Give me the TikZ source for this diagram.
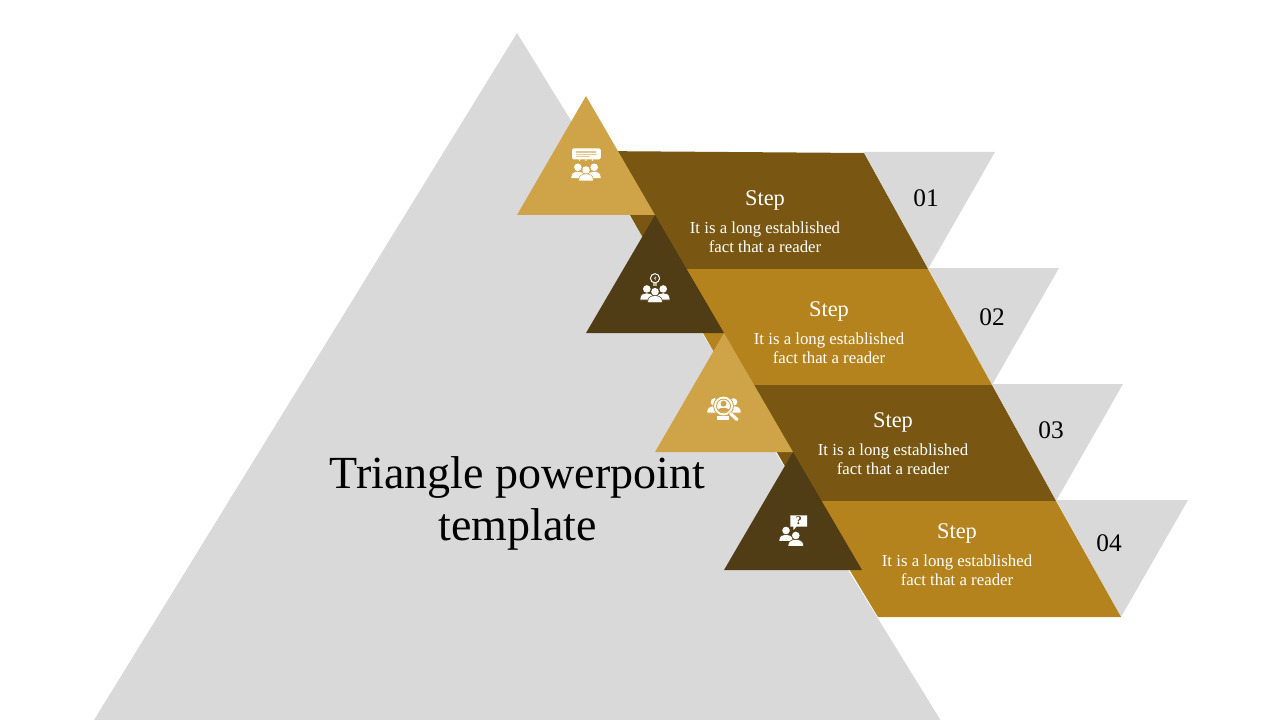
\documentclass[tikz,border=0pt]{standalone}
\usepackage{fontspec}
\setmainfont{Liberation Serif}
\definecolor{greyshape}{HTML}{D9D9D9}
\definecolor{lightgold}{HTML}{CFA348}
\definecolor{darkgold}{HTML}{513D15}
\definecolor{brownband}{HTML}{795713}
\definecolor{goldband}{HTML}{B4831E}
\tikzset{
  greytri/.style={fill=greyshape},
  bandbrown/.style={fill=brownband},
  bandgold/.style={fill=goldband},
  trilight/.style={fill=lightgold},
  tridark/.style={fill=darkgold},
  titletext/.style={align=center,font=\fontsize{34.5}{39}\selectfont,text=black,inner sep=0pt},
  headtext/.style={text=white,font=\fontsize{16.8}{18}\selectfont,inner sep=0pt},
  bodytext/.style={text=white,align=center,font=\fontsize{12.6}{14.25}\selectfont,inner sep=0pt},
  numtext/.style={text=black,font=\fontsize{19}{20}\selectfont,inner sep=0pt},
  iconfill/.style={fill=white}
}
% head centre x, y; body half width; outline colour
\newcommand{\persona}[4]{%
  \begin{scope}[shift={(#1,#2)}]
    \fill[iconfill] (0,0) circle (3.8);
    \path[fill=white,draw=#4,line width=0.4pt]
      (-#3,11) -- (-#3,9) .. controls (-#3,5.2) and (-3,3.9) .. (0,3.9)
      .. controls (3,3.9) and (#3,5.2) .. (#3,9) -- (#3,11) -- cycle;
  \end{scope}}
\newcommand{\peoplegroup}[3]{%
  \persona{#1-8.2}{#2-2.7}{6.6}{#3}
  \persona{#1+8.2}{#2-2.7}{6.6}{#3}
  \persona{#1}{#2}{7.2}{#3}}
\begin{document}
\begin{tikzpicture}[x=0.75pt,y=-0.75pt]
\useasboundingbox (0,0) rectangle (1280,720);
% large triangle
\fill[greytri] (517,33) -- (940.5,720) -- (94,720) -- cycle;
% grey number triangles
\fill[greytri] (864,152) -- (995,152) -- (928,269) -- cycle;
\fill[greytri] (928,268) -- (1059,268) -- (992,385) -- cycle;
\fill[greytri] (992,384) -- (1123,384) -- (1056,501) -- cycle;
\fill[greytri] (1056,500) -- (1188,500) -- (1121,617) -- cycle;
% bands
\fill[bandbrown] (593,151) -- (864,153) -- (928,269) -- (661,269) -- cycle;
\fill[bandgold] (666,269) -- (928,269) -- (992,385) -- (733,385) -- cycle;
\fill[bandbrown] (738,385) -- (992,385) -- (1056,501) -- (805,501) -- cycle;
\fill[bandgold] (808,501) -- (1056,501) -- (1121,617) -- (878,617) -- cycle;
% triangles
\fill[trilight] (586,96) -- (655,215) -- (517,215) -- cycle;
\fill[tridark] (655,215) -- (724,333) -- (586,333) -- cycle;
\fill[trilight] (724,333) -- (793,452) -- (655,452) -- cycle;
\fill[tridark] (793,452) -- (862,570) -- (724,570) -- cycle;
% icon 1
\fill[iconfill,rounded corners=1.2] (572,148.3) rectangle (600.8,159.5);
\fill[lightgold!60!white] (576,151.5) rectangle (596,152.8);
\fill[lightgold!60!white] (576,153.8) rectangle (597,155);
\fill[lightgold!60!white] (576,156) rectangle (590,157.2);
\fill[iconfill] (579.5,160) circle (0.9) (586,160) circle (0.9) (592.5,160) circle (0.9);
\peoplegroup{586}{170}{lightgold}
% icon 2
\draw[white,line width=0.75pt] (655,278.3) circle (4.6);
\fill[iconfill,opacity=.75] (655,276.2) -- (656.6,278.2) -- (655.4,278.2) -- (656,280.6) -- (653.6,277.8) -- (654.8,277.8) -- cycle;
\fill[white,opacity=.6] (652.8,283) rectangle (657.2,286.2);
\peoplegroup{655}{291.7}{darkgold}
% icon 3
\persona{714.5}{402}{7.5}{lightgold}
\persona{733.5}{402}{7.5}{lightgold}
\fill[lightgold] (723.5,406) circle (10.4);
\fill[iconfill] (723.5,406) circle (9.4);
\fill[lightgold] (723.5,406) circle (7.4);
\fill[iconfill] (723.5,406) circle (6.4);
\fill[lightgold] (723.5,403.6) circle (3);
\begin{scope}
  \clip (723.5,406) circle (6.4);
  \fill[lightgold] (716,414) .. controls (716,408.5) and (720,408) .. (723.5,408) .. controls (727,408) and (731,408.5) .. (731,414) -- cycle;
\end{scope}
\fill[iconfill] (717,416) rectangle (729,419.5);
\draw[lightgold,line width=3pt] (729.5,412.5) -- (733,416);
\draw[white,line width=2.4pt,line cap=round] (730.5,413.5) -- (737,419.5);
% icon 4
\fill[iconfill] (790.3,515.3) -- (807,515.3) -- (807,526.7) -- (796.5,526.7) -- (793.3,530) -- (793.3,526.7) -- (790.3,526.7) -- cycle;
\node[inner sep=0pt,text=darkgold,font=\fontsize{9}{9}\selectfont\bfseries] (qmark) at (798.8,521) {?};
\persona{786}{530.5}{6.8}{darkgold}
\persona{795.8}{535.5}{7.6}{darkgold}
% title
\node[titletext] (title) at (517.5,503) {Triangle powerpoint\\template};
% texts
\node[headtext] (s1) at (765,200) {Step};
\node[bodytext] (b1) at (765,237) {It is a long established\\fact that a reader};
\node[numtext] (n1) at (926,198) {01};
\node[headtext] (s2) at (829,311) {Step};
\node[bodytext] (b2) at (829,348) {It is a long established\\fact that a reader};
\node[numtext] (n2) at (992,317) {02};
\node[headtext] (s3) at (893,422) {Step};
\node[bodytext] (b3) at (893,459) {It is a long established\\fact that a reader};
\node[numtext] (n3) at (1051,430) {03};
\node[headtext] (s4) at (957,533) {Step};
\node[bodytext] (b4) at (957,570) {It is a long established\\fact that a reader};
\node[numtext] (n4) at (1109,543) {04};
\end{tikzpicture}
\end{document}
